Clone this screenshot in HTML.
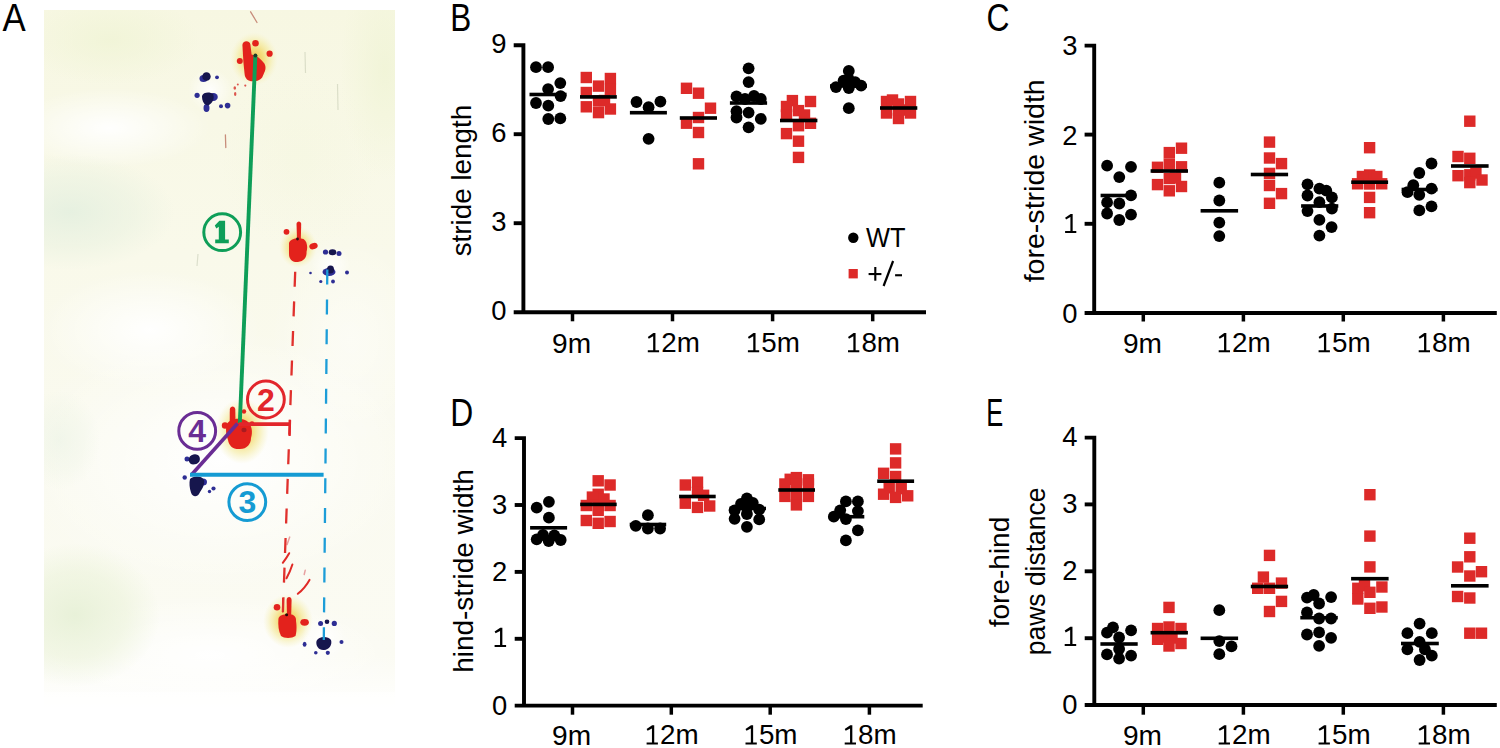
<!DOCTYPE html>
<html><head><meta charset="utf-8"><title>Gait analysis figure</title>
<style>
html,body{margin:0;padding:0;background:#fff;}
body{width:1500px;height:748px;overflow:hidden;}
svg{display:block;font-family:"Liberation Sans", sans-serif;}
</style></head>
<body>
<svg width="1500" height="748" viewBox="0 0 1500 748">
<rect width="1500" height="748" fill="#fff"/>
<defs>
<linearGradient id="pbase" x1="0" y1="0" x2="0" y2="1">
 <stop offset="0" stop-color="#F7F7E2"/>
 <stop offset="0.15" stop-color="#F8F8E6"/>
 <stop offset="0.35" stop-color="#F9F9EA"/>
 <stop offset="0.6" stop-color="#FAFAEF"/>
 <stop offset="0.92" stop-color="#FBFBF3"/>
 <stop offset="1" stop-color="#FFFFFF"/>
</linearGradient>
<radialGradient id="gtint" cx="0.5" cy="0.5" r="0.5">
 <stop offset="0" stop-color="#E3EFDF" stop-opacity="0.85"/>
 <stop offset="0.6" stop-color="#E8F1E0" stop-opacity="0.5"/>
 <stop offset="1" stop-color="#E8F1E0" stop-opacity="0"/>
</radialGradient>
<radialGradient id="gtint2" cx="0.5" cy="0.5" r="0.5">
 <stop offset="0" stop-color="#E6F0D6" stop-opacity="0.9"/>
 <stop offset="0.6" stop-color="#EAF2D8" stop-opacity="0.55"/>
 <stop offset="1" stop-color="#EAF2D8" stop-opacity="0"/>
</radialGradient>
<radialGradient id="ytint" cx="0.5" cy="0.5" r="0.5">
 <stop offset="0" stop-color="#F0F4D6" stop-opacity="0.85"/>
 <stop offset="1" stop-color="#F0F4D6" stop-opacity="0"/>
</radialGradient>
<radialGradient id="wtint" cx="0.5" cy="0.5" r="0.5">
 <stop offset="0" stop-color="#FFFFFF" stop-opacity="0.95"/>
 <stop offset="1" stop-color="#FFFFFF" stop-opacity="0"/>
</radialGradient>
<radialGradient id="halo" cx="0.5" cy="0.5" r="0.5">
 <stop offset="0" stop-color="#F0B540" stop-opacity="0.95"/>
 <stop offset="0.4" stop-color="#F2D868" stop-opacity="0.8"/>
 <stop offset="0.7" stop-color="#F4EA9C" stop-opacity="0.55"/>
 <stop offset="0.88" stop-color="#F6F1C0" stop-opacity="0.3"/>
 <stop offset="1" stop-color="#F8F4D0" stop-opacity="0"/>
</radialGradient>
<radialGradient id="bhalo" cx="0.5" cy="0.5" r="0.5">
 <stop offset="0" stop-color="#FFFFFF" stop-opacity="0.9"/>
 <stop offset="1" stop-color="#FFFFFF" stop-opacity="0"/>
</radialGradient>
<filter id="soft" x="-20%" y="-20%" width="140%" height="140%"><feGaussianBlur stdDeviation="0.55"/></filter>
<clipPath id="pclip"><rect x="44" y="10" width="351" height="702"/></clipPath>
</defs>
<g clip-path="url(#pclip)">
<rect x="44" y="10" width="351" height="702" fill="url(#pbase)"/>
<ellipse cx="220" cy="460" rx="200" ry="130" fill="url(#wtint)"/>
<ellipse cx="210" cy="655" rx="190" ry="60" fill="url(#wtint)"/>
<ellipse cx="110" cy="128" rx="100" ry="40" fill="url(#wtint)"/>
<ellipse cx="150" cy="330" rx="110" ry="60" fill="url(#wtint)"/>
<ellipse cx="350" cy="340" rx="80" ry="110" fill="url(#wtint)" opacity="0.5"/>
<ellipse cx="70" cy="212" rx="105" ry="58" fill="url(#gtint)"/>
<ellipse cx="60" cy="440" rx="40" ry="50" fill="url(#gtint)" opacity="0.5"/>
<ellipse cx="75" cy="615" rx="85" ry="72" fill="url(#gtint2)"/>
<ellipse cx="385" cy="70" rx="45" ry="110" fill="url(#ytint)"/>
<ellipse cx="110" cy="40" rx="90" ry="45" fill="url(#ytint)"/>
<ellipse cx="300" cy="160" rx="80" ry="90" fill="url(#ytint)" opacity="0.3"/>
<g stroke="#9AA488" stroke-width="1.2" opacity="0.3"><line x1="305" y1="52" x2="305.5" y2="73"/><line x1="337.5" y1="84" x2="338" y2="110"/><line x1="198" y1="254" x2="197" y2="266"/></g>
<rect x="44" y="692" width="351" height="20" fill="#FFFFFF" opacity="0.6"/>
<ellipse cx="254" cy="59" rx="24" ry="27" fill="url(#halo)"/>
<ellipse cx="298" cy="247" rx="19" ry="21" fill="url(#halo)"/>
<ellipse cx="242" cy="431" rx="27" ry="33" fill="url(#halo)"/>
<ellipse cx="288" cy="621" rx="25" ry="27" fill="url(#halo)"/>
<circle cx="210" cy="90" r="22" fill="url(#bhalo)"/>
<circle cx="331" cy="265" r="20" fill="url(#bhalo)"/>
<circle cx="198" cy="476" r="22" fill="url(#bhalo)"/>
<circle cx="324" cy="638" r="22" fill="url(#bhalo)"/>
<g fill="#E3241F" filter="url(#soft)"><path d="M242.4 45 C242.4 40.3 249.6 39.8 250.4 44.5 L251.6 54.5 C256 55.5 261 59 263.5 62.5 C266.5 65.5 266 71 263 74.5 C263 78.5 259 81 254 81.3 C248.5 81.8 245 79 244.6 74 L243.4 62 Z"/><circle cx="255.5" cy="43.3" r="3.3"/><circle cx="239.8" cy="60.9" r="3"/><circle cx="269.6" cy="53.7" r="3.1"/><circle cx="261" cy="73.5" r="2.6"/></g>
<g fill="#E3241F" filter="url(#soft)"><path d="M289 243 C290 238.5 298 237 303.5 239 C307 241 308 247 306.5 252 C307 257 304 261.5 298 262 C292 262.5 289 259 289 254 Z"/><path d="M296.5 224 C296.5 220.5 301.2 220.5 301.2 224 L300.8 240 L297 240 Z"/><circle cx="286.5" cy="231.8" r="2.9"/><ellipse cx="313.5" cy="246.1" rx="4.3" ry="3.1" transform="rotate(-20 313.5 246.1)"/></g>
<circle cx="297.5" cy="239" r="1.4" fill="#301010"/>
<g fill="#E3241F" filter="url(#soft)"><path d="M226.5 425 C229 418.5 240 417 247 421 C252 425 253 432 251 438 C251 444 247 449 240 449 C233 449.5 229 446 228 440 C226 435 225.5 430 226.5 425 Z"/><path d="M229.8 409 C230.5 405.5 235 405.5 235.3 409.5 L235.5 423 L229.7 423 Z"/><circle cx="225" cy="425.5" r="3.2"/><circle cx="244" cy="411.5" r="2.2"/><circle cx="252" cy="423.5" r="2.3"/></g>
<ellipse cx="244" cy="430" rx="2.6" ry="2.2" fill="#9A1A22" opacity="0.8"/>
<g fill="#E3241F" filter="url(#soft)"><path d="M278.4 619 C279 614.5 285 614 290 614.3 C294 614.5 296.5 617 296 621 C297 627 296.5 633 295.5 636 C292 638.5 284 638.5 281 636 C278.5 631 278 625 278.4 619 Z"/><path d="M286.6 600 C286.6 596 291.6 596 291.6 600 L291.2 615 L287 615 Z"/><circle cx="277" cy="607.3" r="3.3"/><ellipse cx="304.6" cy="622.3" rx="4.3" ry="3.4"/></g>
<line x1="282.8" y1="598" x2="282.8" y2="612.5" stroke="#E3241F" stroke-width="1.6"/>
<circle cx="286.6" cy="614.8" r="1.5" fill="#200808"/>
<g fill="#2E2E94" filter="url(#soft)"><ellipse cx="203.5" cy="78.5" rx="4" ry="3.6"/><circle cx="197.1" cy="95.3" r="2.6"/><circle cx="217" cy="77.3" r="1.9"/><ellipse cx="213.5" cy="97" rx="4.3" ry="4"/><circle cx="221" cy="106.3" r="2"/><circle cx="227.6" cy="105.6" r="2.8"/><ellipse cx="206.5" cy="108" rx="3" ry="4"/></g>
<g fill="#15124E" filter="url(#soft)"><ellipse cx="206.5" cy="76.5" rx="4.2" ry="4.3"/><path d="M202 96 C203 92 210 91.5 213 94 C215 98 212.5 103 209 105 C205 106.5 202 102 202 96 Z"/></g>
<g fill="#2E2E94" filter="url(#soft)"><circle cx="325.5" cy="252" r="2.6"/><circle cx="320.8" cy="281.5" r="1.6"/><circle cx="333" cy="281.5" r="1.9"/><circle cx="347" cy="272.5" r="2"/><circle cx="310.5" cy="273" r="1.3"/><circle cx="339" cy="253.5" r="2.5"/><ellipse cx="329" cy="272" rx="6.5" ry="4"/></g>
<g fill="#15124E" filter="url(#soft)"><ellipse cx="332.5" cy="252.3" rx="3.8" ry="3"/><ellipse cx="330.5" cy="269.5" rx="3.5" ry="4"/></g>
<g fill="#2E2E94" filter="url(#soft)"><circle cx="184.7" cy="477.5" r="2.2"/><circle cx="213.5" cy="488.5" r="2.1"/><circle cx="209.5" cy="491.5" r="1.7"/><ellipse cx="203" cy="482" rx="4" ry="3.5"/><circle cx="187" cy="459" r="2.5"/></g>
<g fill="#15124E" filter="url(#soft)"><path d="M189 458 C191 453.5 198 453 199.5 457 C201 461 198 464.5 193 464.5 C190 464.5 188 461.5 189 458 Z"/><path d="M190 479 C193 475.5 202 475.5 204 480 C205 485 202 489 199.5 493 C197.5 497.5 192.5 497.5 191 492.5 C189.5 488 189 483 190 479 Z"/></g>
<g fill="#2E2E94" filter="url(#soft)"><ellipse cx="304.6" cy="644.3" rx="1.9" ry="2.5"/><circle cx="341.5" cy="641.9" r="2"/><circle cx="315.8" cy="652.8" r="1.8"/><circle cx="327.8" cy="652.8" r="2.1"/><circle cx="320.6" cy="623.4" r="2.5"/><circle cx="334.3" cy="623.4" r="2.6"/></g>
<g fill="#15124E" filter="url(#soft)"><path d="M316.5 641 C318.5 636 328 635.5 331 640 C332.5 645 329 649.5 324 650 C319 650.5 315.5 646 316.5 641 Z"/><circle cx="327" cy="621.8" r="2.3"/></g>
<g stroke="#B86A58" stroke-width="1.3" fill="none" opacity="0.75" stroke-linecap="round"><path d="M250.6 11.8 L257 22.5"/><path d="M225.4 134.8 L225.8 147.6"/></g>
<g fill="#D83A34" opacity="0.85"><ellipse cx="234.8" cy="88" rx="1.3" ry="1.8"/><ellipse cx="235.2" cy="94" rx="1.2" ry="2"/><circle cx="237.8" cy="84.5" r="1"/><circle cx="245.3" cy="85.6" r="1.1"/></g>
<g stroke="#E02A26" stroke-width="2" fill="none" stroke-linecap="round"><path d="M289.2 553.2 Q286.5 558 282.8 562.8"/><path d="M292.4 564.5 Q290 572 286.5 578.3"/><path d="M309.5 579.9 Q305 588 297.8 593.8"/></g>
<g stroke="#E8A0A0" stroke-width="1.5" fill="none" stroke-linecap="round"><path d="M289.7 537.1 L287.1 544.6"/><path d="M305.2 570.3 L304.2 574.5"/></g>
<line x1="295.2" y1="271.8" x2="282.9" y2="612" stroke="#E0302C" stroke-width="2.3" stroke-dasharray="15 14.6"/>
<line x1="327.3" y1="269.6" x2="323.8" y2="640" stroke="#1C9DD8" stroke-width="2.3" stroke-dasharray="15 14.8"/>
<line x1="255.4" y1="55" x2="239.8" y2="423" stroke="#0E9E58" stroke-width="3.9"/>
<circle cx="255.4" cy="55.5" r="1.9" fill="#1B3A2A"/>
<line x1="239" y1="424.1" x2="290.5" y2="424.1" stroke="#E2262B" stroke-width="3.6"/>
<line x1="290" y1="419.9" x2="289.6" y2="436" stroke="#E2262B" stroke-width="2.3"/>
<line x1="237.5" y1="423.5" x2="191.3" y2="475" stroke="#6A2D94" stroke-width="3.6"/>
<line x1="190" y1="474.8" x2="323.6" y2="474.8" stroke="#159BD3" stroke-width="3.9"/>
<circle cx="222.2" cy="232.2" r="18.4" fill="none" stroke="#0E9E58" stroke-width="3"/>
<path d="M219.4 220.8 H225.1 V239.6 H228.8 V243.2 H215.2 V239.6 H218.8 V226.8 L216.3 228.6 L214.8 225.4 Z" fill="#0E9E58"/>
<circle cx="265.9" cy="399.5" r="18.4" fill="none" stroke="#E2262B" stroke-width="3"/><text x="265.9" y="410.7" text-anchor="middle" font-size="32" font-weight="bold" fill="#E2262B">2</text>
<circle cx="247.3" cy="502.1" r="18.4" fill="none" stroke="#159BD3" stroke-width="3"/><text x="247.3" y="513.3" text-anchor="middle" font-size="32" font-weight="bold" fill="#159BD3">3</text>
<circle cx="197.2" cy="430.9" r="18.4" fill="none" stroke="#6A2D94" stroke-width="3"/><text x="197.2" y="442.1" text-anchor="middle" font-size="32" font-weight="bold" fill="#6A2D94">4</text>
</g>
<g fill="#000">
<path d="M513.7 45.2H523.4V312.3" fill="none" stroke="#000" stroke-width="3.9" stroke-linejoin="miter"/>
<line x1="513.7" y1="312.3" x2="926" y2="312.3" stroke="#000" stroke-width="3.9"/>
<line x1="513.7" y1="134.2" x2="523.4" y2="134.2" stroke="#000" stroke-width="3.9"/>
<line x1="513.7" y1="223.2" x2="523.4" y2="223.2" stroke="#000" stroke-width="3.9"/>
<line x1="572.5" y1="312.3" x2="572.5" y2="321.3" stroke="#000" stroke-width="3.5"/>
<line x1="672.5" y1="312.3" x2="672.5" y2="321.3" stroke="#000" stroke-width="3.5"/>
<line x1="772.6" y1="312.3" x2="772.6" y2="321.3" stroke="#000" stroke-width="3.5"/>
<line x1="872.7" y1="312.3" x2="872.7" y2="321.3" stroke="#000" stroke-width="3.5"/>
<text x="506.6" y="52.5" text-anchor="end" font-size="27.4">9</text>
<text x="506.6" y="141.5" text-anchor="end" font-size="27.4">6</text>
<text x="506.6" y="230.5" text-anchor="end" font-size="27.4">3</text>
<text x="506.6" y="319.6" text-anchor="end" font-size="27.4">0</text>
<text x="571.6" y="352.5" text-anchor="middle" font-size="27" textLength="39" lengthAdjust="spacingAndGlyphs">9m</text>
<path transform="translate(647.8 333.1) scale(0.9912 0.9948)" d="M5.6 0H7.7V17.3H11.4V19.3H0V17.3H5.4V3.2L1.0 5.7L0 3.9Z"/>
<text x="661.2" y="352.3" font-size="27" textLength="38.6" lengthAdjust="spacingAndGlyphs">2m</text>
<path transform="translate(747.9 333.1) scale(0.9912 0.9948)" d="M5.6 0H7.7V17.3H11.4V19.3H0V17.3H5.4V3.2L1.0 5.7L0 3.9Z"/>
<text x="761.3" y="352.3" font-size="27" textLength="38.6" lengthAdjust="spacingAndGlyphs">5m</text>
<path transform="translate(848 333.1) scale(0.9912 0.9948)" d="M5.6 0H7.7V17.3H11.4V19.3H0V17.3H5.4V3.2L1.0 5.7L0 3.9Z"/>
<text x="861.4" y="352.3" font-size="27" textLength="38.6" lengthAdjust="spacingAndGlyphs">8m</text>
<rect x="580.6" y="71.8" width="11.4" height="11.4" fill="#DD2A29"/>
<rect x="604.7" y="72.8" width="11.4" height="11.4" fill="#DD2A29"/>
<rect x="604.7" y="83.8" width="11.4" height="11.4" fill="#DD2A29"/>
<rect x="592.8" y="80.4" width="11.4" height="11.4" fill="#DD2A29"/>
<rect x="580.6" y="86.8" width="11.4" height="11.4" fill="#DD2A29"/>
<rect x="592.8" y="95.3" width="11.4" height="11.4" fill="#DD2A29"/>
<rect x="580.6" y="101.1" width="11.4" height="11.4" fill="#DD2A29"/>
<rect x="592.8" y="106.9" width="11.4" height="11.4" fill="#DD2A29"/>
<rect x="604.7" y="103.3" width="11.4" height="11.4" fill="#DD2A29"/>
<rect x="598.8" y="94.8" width="11.4" height="11.4" fill="#DD2A29"/>
<rect x="680.8" y="82.6" width="11.4" height="11.4" fill="#DD2A29"/>
<rect x="692.8" y="87.5" width="11.4" height="11.4" fill="#DD2A29"/>
<rect x="704.8" y="102.5" width="11.4" height="11.4" fill="#DD2A29"/>
<rect x="692.8" y="111.8" width="11.4" height="11.4" fill="#DD2A29"/>
<rect x="680.8" y="117.5" width="11.4" height="11.4" fill="#DD2A29"/>
<rect x="692.8" y="126.8" width="11.4" height="11.4" fill="#DD2A29"/>
<rect x="692.8" y="158.1" width="11.4" height="11.4" fill="#DD2A29"/>
<rect x="786.7" y="94.9" width="11.4" height="11.4" fill="#DD2A29"/>
<rect x="804.8" y="95.8" width="11.4" height="11.4" fill="#DD2A29"/>
<rect x="780.8" y="100.8" width="11.4" height="11.4" fill="#DD2A29"/>
<rect x="792.8" y="104.9" width="11.4" height="11.4" fill="#DD2A29"/>
<rect x="798.8" y="109.3" width="11.4" height="11.4" fill="#DD2A29"/>
<rect x="780.8" y="109.3" width="11.4" height="11.4" fill="#DD2A29"/>
<rect x="804.8" y="117.6" width="11.4" height="11.4" fill="#DD2A29"/>
<rect x="792.8" y="120" width="11.4" height="11.4" fill="#DD2A29"/>
<rect x="780.8" y="127.9" width="11.4" height="11.4" fill="#DD2A29"/>
<rect x="792.8" y="135.5" width="11.4" height="11.4" fill="#DD2A29"/>
<rect x="792.8" y="151.7" width="11.4" height="11.4" fill="#DD2A29"/>
<rect x="880.8" y="95.8" width="11.4" height="11.4" fill="#DD2A29"/>
<rect x="886.8" y="94.3" width="11.4" height="11.4" fill="#DD2A29"/>
<rect x="892.8" y="98.3" width="11.4" height="11.4" fill="#DD2A29"/>
<rect x="904.8" y="95.8" width="11.4" height="11.4" fill="#DD2A29"/>
<rect x="880.8" y="107.3" width="11.4" height="11.4" fill="#DD2A29"/>
<rect x="892.8" y="112.8" width="11.4" height="11.4" fill="#DD2A29"/>
<rect x="904.8" y="107.3" width="11.4" height="11.4" fill="#DD2A29"/>
<rect x="898.8" y="104.3" width="11.4" height="11.4" fill="#DD2A29"/>
<rect x="892.8" y="104.3" width="11.4" height="11.4" fill="#DD2A29"/>
<rect x="529.5" y="92.7" width="37.1" height="3.6" fill="#000"/>
<rect x="629.9" y="110.9" width="37" height="3.6" fill="#000"/>
<rect x="729.9" y="101.2" width="37.2" height="3.6" fill="#000"/>
<rect x="830" y="84.2" width="37" height="3.6" fill="#000"/>
<rect x="580" y="95.1" width="36.8" height="3.6" fill="#000"/>
<rect x="679.8" y="116.2" width="37.2" height="3.6" fill="#000"/>
<rect x="780" y="118.7" width="37.4" height="3.6" fill="#000"/>
<rect x="880" y="106.2" width="37.3" height="3.6" fill="#000"/>
<circle cx="536" cy="67.2" r="5.9"/>
<circle cx="548.1" cy="67.2" r="5.9"/>
<circle cx="560.3" cy="83.1" r="5.9"/>
<circle cx="548.1" cy="89.1" r="5.9"/>
<circle cx="560.6" cy="96.1" r="5.9"/>
<circle cx="536" cy="103" r="5.9"/>
<circle cx="548.3" cy="105.7" r="5.9"/>
<circle cx="548.3" cy="119" r="5.9"/>
<circle cx="560.3" cy="118.4" r="5.9"/>
<circle cx="636.5" cy="102" r="5.9"/>
<circle cx="660.4" cy="101.6" r="5.9"/>
<circle cx="648.6" cy="107.2" r="5.9"/>
<circle cx="648.6" cy="138.8" r="5.9"/>
<circle cx="748.6" cy="68.3" r="5.9"/>
<circle cx="748.6" cy="82.1" r="5.9"/>
<circle cx="736.5" cy="96.4" r="5.9"/>
<circle cx="745" cy="99" r="5.9"/>
<circle cx="754" cy="96" r="5.9"/>
<circle cx="760.8" cy="99" r="5.9"/>
<circle cx="736.5" cy="111.2" r="5.9"/>
<circle cx="736.5" cy="117.5" r="5.9"/>
<circle cx="748.6" cy="112.6" r="5.9"/>
<circle cx="760.8" cy="118.9" r="5.9"/>
<circle cx="748.6" cy="127.3" r="5.9"/>
<circle cx="848.8" cy="71" r="5.9"/>
<circle cx="848.8" cy="79.5" r="5.9"/>
<circle cx="843.6" cy="80.6" r="5.9"/>
<circle cx="855.1" cy="82.1" r="5.9"/>
<circle cx="836" cy="87.1" r="5.9"/>
<circle cx="848.8" cy="88.1" r="5.9"/>
<circle cx="861.1" cy="85.6" r="5.9"/>
<circle cx="848.8" cy="108.2" r="5.9"/>
<path d="M1084.6 45.6H1094.2V313" fill="none" stroke="#000" stroke-width="3.9" stroke-linejoin="miter"/>
<line x1="1084.6" y1="313" x2="1496.8" y2="313" stroke="#000" stroke-width="3.9"/>
<line x1="1084.6" y1="134.6" x2="1094.2" y2="134.6" stroke="#000" stroke-width="3.9"/>
<line x1="1084.6" y1="223.8" x2="1094.2" y2="223.8" stroke="#000" stroke-width="3.9"/>
<line x1="1143.3" y1="313" x2="1143.3" y2="321.5" stroke="#000" stroke-width="3.5"/>
<line x1="1243.4" y1="313" x2="1243.4" y2="321.5" stroke="#000" stroke-width="3.5"/>
<line x1="1343.3" y1="313" x2="1343.3" y2="321.5" stroke="#000" stroke-width="3.5"/>
<line x1="1443.4" y1="313" x2="1443.4" y2="321.5" stroke="#000" stroke-width="3.5"/>
<text x="1077.4" y="55.3" text-anchor="end" font-size="27.4">3</text>
<text x="1077.4" y="144.5" text-anchor="end" font-size="27.4">2</text>
<path transform="translate(1065.1 213.9) scale(0.9825 0.9948)" d="M5.6 0H7.7V17.3H11.4V19.3H0V17.3H5.4V3.2L1.0 5.7L0 3.9Z"/>
<text x="1077.4" y="322.9" text-anchor="end" font-size="27.4">0</text>
<text x="1142.4" y="352.5" text-anchor="middle" font-size="27" textLength="39" lengthAdjust="spacingAndGlyphs">9m</text>
<path transform="translate(1218.7 333.1) scale(0.9912 0.9948)" d="M5.6 0H7.7V17.3H11.4V19.3H0V17.3H5.4V3.2L1.0 5.7L0 3.9Z"/>
<text x="1232.1" y="352.3" font-size="27" textLength="38.6" lengthAdjust="spacingAndGlyphs">2m</text>
<path transform="translate(1318.6 333.1) scale(0.9912 0.9948)" d="M5.6 0H7.7V17.3H11.4V19.3H0V17.3H5.4V3.2L1.0 5.7L0 3.9Z"/>
<text x="1332" y="352.3" font-size="27" textLength="38.6" lengthAdjust="spacingAndGlyphs">5m</text>
<path transform="translate(1418.7 333.1) scale(0.9912 0.9948)" d="M5.6 0H7.7V17.3H11.4V19.3H0V17.3H5.4V3.2L1.0 5.7L0 3.9Z"/>
<text x="1432.1" y="352.3" font-size="27" textLength="38.6" lengthAdjust="spacingAndGlyphs">8m</text>
<rect x="1175.8" y="142.5" width="11.4" height="11.4" fill="#DD2A29"/>
<rect x="1163.6" y="146.9" width="11.4" height="11.4" fill="#DD2A29"/>
<rect x="1151.8" y="161.6" width="11.4" height="11.4" fill="#DD2A29"/>
<rect x="1163.6" y="158.3" width="11.4" height="11.4" fill="#DD2A29"/>
<rect x="1175.8" y="161.1" width="11.4" height="11.4" fill="#DD2A29"/>
<rect x="1163.6" y="172.8" width="11.4" height="11.4" fill="#DD2A29"/>
<rect x="1151.8" y="178.9" width="11.4" height="11.4" fill="#DD2A29"/>
<rect x="1175.8" y="180.8" width="11.4" height="11.4" fill="#DD2A29"/>
<rect x="1163.6" y="185.1" width="11.4" height="11.4" fill="#DD2A29"/>
<rect x="1169.8" y="172.3" width="11.4" height="11.4" fill="#DD2A29"/>
<rect x="1263.8" y="136.4" width="11.4" height="11.4" fill="#DD2A29"/>
<rect x="1263.8" y="152.3" width="11.4" height="11.4" fill="#DD2A29"/>
<rect x="1275.8" y="157.9" width="11.4" height="11.4" fill="#DD2A29"/>
<rect x="1263.8" y="167.7" width="11.4" height="11.4" fill="#DD2A29"/>
<rect x="1263.8" y="179.8" width="11.4" height="11.4" fill="#DD2A29"/>
<rect x="1275.8" y="187.9" width="11.4" height="11.4" fill="#DD2A29"/>
<rect x="1263.8" y="197.6" width="11.4" height="11.4" fill="#DD2A29"/>
<rect x="1363.9" y="142" width="11.4" height="11.4" fill="#DD2A29"/>
<rect x="1363.9" y="169.3" width="11.4" height="11.4" fill="#DD2A29"/>
<rect x="1356.7" y="170.8" width="11.4" height="11.4" fill="#DD2A29"/>
<rect x="1371.1" y="170.8" width="11.4" height="11.4" fill="#DD2A29"/>
<rect x="1351.9" y="178.1" width="11.4" height="11.4" fill="#DD2A29"/>
<rect x="1376" y="178.1" width="11.4" height="11.4" fill="#DD2A29"/>
<rect x="1363.9" y="178.3" width="11.4" height="11.4" fill="#DD2A29"/>
<rect x="1363.9" y="191.7" width="11.4" height="11.4" fill="#DD2A29"/>
<rect x="1363.9" y="207" width="11.4" height="11.4" fill="#DD2A29"/>
<rect x="1464.1" y="115.5" width="11.4" height="11.4" fill="#DD2A29"/>
<rect x="1452.3" y="150.8" width="11.4" height="11.4" fill="#DD2A29"/>
<rect x="1464.1" y="152.6" width="11.4" height="11.4" fill="#DD2A29"/>
<rect x="1452.3" y="170" width="11.4" height="11.4" fill="#DD2A29"/>
<rect x="1464.1" y="169.1" width="11.4" height="11.4" fill="#DD2A29"/>
<rect x="1470.2" y="167.3" width="11.4" height="11.4" fill="#DD2A29"/>
<rect x="1476.3" y="174.3" width="11.4" height="11.4" fill="#DD2A29"/>
<rect x="1464.1" y="176.9" width="11.4" height="11.4" fill="#DD2A29"/>
<rect x="1100.6" y="193.7" width="35.6" height="3.6" fill="#000"/>
<rect x="1200.6" y="209" width="37.5" height="3.6" fill="#000"/>
<rect x="1301.1" y="204.2" width="37.2" height="3.6" fill="#000"/>
<rect x="1401.6" y="187.7" width="36" height="3.6" fill="#000"/>
<rect x="1150.6" y="169.2" width="37.4" height="3.6" fill="#000"/>
<rect x="1250.8" y="172.7" width="37.3" height="3.6" fill="#000"/>
<rect x="1351.2" y="180.4" width="36.9" height="3.6" fill="#000"/>
<rect x="1451" y="164.2" width="37.6" height="3.6" fill="#000"/>
<circle cx="1107.1" cy="165.7" r="5.9"/>
<circle cx="1131" cy="166.8" r="5.9"/>
<circle cx="1119.3" cy="177.1" r="5.9"/>
<circle cx="1131" cy="195.4" r="5.9"/>
<circle cx="1107.1" cy="202.4" r="5.9"/>
<circle cx="1119.3" cy="203.5" r="5.9"/>
<circle cx="1107.1" cy="213.5" r="5.9"/>
<circle cx="1131" cy="214.6" r="5.9"/>
<circle cx="1119.3" cy="220" r="5.9"/>
<circle cx="1219.3" cy="182.7" r="5.9"/>
<circle cx="1219.3" cy="200.5" r="5.9"/>
<circle cx="1219.3" cy="222.6" r="5.9"/>
<circle cx="1219.3" cy="236.1" r="5.9"/>
<circle cx="1307.5" cy="184.3" r="5.9"/>
<circle cx="1319.4" cy="188.6" r="5.9"/>
<circle cx="1326.3" cy="190.7" r="5.9"/>
<circle cx="1307.5" cy="195.5" r="5.9"/>
<circle cx="1331.9" cy="197.4" r="5.9"/>
<circle cx="1319.4" cy="202.2" r="5.9"/>
<circle cx="1307.5" cy="211.1" r="5.9"/>
<circle cx="1331.9" cy="208.7" r="5.9"/>
<circle cx="1319.4" cy="219.9" r="5.9"/>
<circle cx="1331.6" cy="227.1" r="5.9"/>
<circle cx="1319.4" cy="235.6" r="5.9"/>
<circle cx="1431.5" cy="163.5" r="5.9"/>
<circle cx="1419.3" cy="173" r="5.9"/>
<circle cx="1413.3" cy="185.2" r="5.9"/>
<circle cx="1407.5" cy="192.2" r="5.9"/>
<circle cx="1419.3" cy="194.8" r="5.9"/>
<circle cx="1431.5" cy="188.7" r="5.9"/>
<circle cx="1419.3" cy="210.4" r="5.9"/>
<circle cx="1431.5" cy="206.4" r="5.9"/>
<path d="M514.7 438.1H524V705.6" fill="none" stroke="#000" stroke-width="3.9" stroke-linejoin="miter"/>
<line x1="514.7" y1="705.6" x2="922.7" y2="705.6" stroke="#000" stroke-width="3.9"/>
<line x1="514.7" y1="505" x2="524" y2="505" stroke="#000" stroke-width="3.9"/>
<line x1="514.7" y1="571.9" x2="524" y2="571.9" stroke="#000" stroke-width="3.9"/>
<line x1="514.7" y1="638.8" x2="524" y2="638.8" stroke="#000" stroke-width="3.9"/>
<line x1="572.5" y1="705.6" x2="572.5" y2="714.7" stroke="#000" stroke-width="3.5"/>
<line x1="671.3" y1="705.6" x2="671.3" y2="714.7" stroke="#000" stroke-width="3.5"/>
<line x1="770.2" y1="705.6" x2="770.2" y2="714.7" stroke="#000" stroke-width="3.5"/>
<line x1="869.4" y1="705.6" x2="869.4" y2="714.7" stroke="#000" stroke-width="3.5"/>
<text x="507.2" y="447" text-anchor="end" font-size="27.4">4</text>
<text x="507.2" y="513.9" text-anchor="end" font-size="27.4">3</text>
<text x="507.2" y="580.8" text-anchor="end" font-size="27.4">2</text>
<path transform="translate(494.6 627.7) scale(1.0088 0.9948)" d="M5.6 0H7.7V17.3H11.4V19.3H0V17.3H5.4V3.2L1.0 5.7L0 3.9Z"/>
<text x="507.2" y="714.5" text-anchor="end" font-size="27.4">0</text>
<text x="571.6" y="744.6" text-anchor="middle" font-size="27" textLength="39" lengthAdjust="spacingAndGlyphs">9m</text>
<path transform="translate(646.6 725.2) scale(0.9912 0.9948)" d="M5.6 0H7.7V17.3H11.4V19.3H0V17.3H5.4V3.2L1.0 5.7L0 3.9Z"/>
<text x="660" y="744.4" font-size="27" textLength="38.6" lengthAdjust="spacingAndGlyphs">2m</text>
<path transform="translate(745.5 725.2) scale(0.9912 0.9948)" d="M5.6 0H7.7V17.3H11.4V19.3H0V17.3H5.4V3.2L1.0 5.7L0 3.9Z"/>
<text x="758.9" y="744.4" font-size="27" textLength="38.6" lengthAdjust="spacingAndGlyphs">5m</text>
<path transform="translate(844.7 725.2) scale(0.9912 0.9948)" d="M5.6 0H7.7V17.3H11.4V19.3H0V17.3H5.4V3.2L1.0 5.7L0 3.9Z"/>
<text x="858.1" y="744.4" font-size="27" textLength="38.6" lengthAdjust="spacingAndGlyphs">8m</text>
<rect x="592.5" y="475.1" width="11.4" height="11.4" fill="#DD2A29"/>
<rect x="604.4" y="479.3" width="11.4" height="11.4" fill="#DD2A29"/>
<rect x="592.5" y="488.6" width="11.4" height="11.4" fill="#DD2A29"/>
<rect x="586.7" y="491.4" width="11.4" height="11.4" fill="#DD2A29"/>
<rect x="580.6" y="499.8" width="11.4" height="11.4" fill="#DD2A29"/>
<rect x="592.5" y="499.8" width="11.4" height="11.4" fill="#DD2A29"/>
<rect x="604.4" y="499.8" width="11.4" height="11.4" fill="#DD2A29"/>
<rect x="598.3" y="493.3" width="11.4" height="11.4" fill="#DD2A29"/>
<rect x="592.5" y="504.7" width="11.4" height="11.4" fill="#DD2A29"/>
<rect x="580.6" y="514.8" width="11.4" height="11.4" fill="#DD2A29"/>
<rect x="592.5" y="517.6" width="11.4" height="11.4" fill="#DD2A29"/>
<rect x="604.4" y="515.8" width="11.4" height="11.4" fill="#DD2A29"/>
<rect x="679.6" y="479.3" width="11.4" height="11.4" fill="#DD2A29"/>
<rect x="691.8" y="476.5" width="11.4" height="11.4" fill="#DD2A29"/>
<rect x="691.8" y="486.8" width="11.4" height="11.4" fill="#DD2A29"/>
<rect x="697.9" y="489.6" width="11.4" height="11.4" fill="#DD2A29"/>
<rect x="679.6" y="497.5" width="11.4" height="11.4" fill="#DD2A29"/>
<rect x="691.8" y="501.7" width="11.4" height="11.4" fill="#DD2A29"/>
<rect x="704" y="500.3" width="11.4" height="11.4" fill="#DD2A29"/>
<rect x="790.7" y="471.9" width="11.4" height="11.4" fill="#DD2A29"/>
<rect x="784.5" y="473.6" width="11.4" height="11.4" fill="#DD2A29"/>
<rect x="802.7" y="474.1" width="11.4" height="11.4" fill="#DD2A29"/>
<rect x="779.2" y="478.3" width="11.4" height="11.4" fill="#DD2A29"/>
<rect x="790.7" y="478.3" width="11.4" height="11.4" fill="#DD2A29"/>
<rect x="802.7" y="478.3" width="11.4" height="11.4" fill="#DD2A29"/>
<rect x="779.2" y="490.7" width="11.4" height="11.4" fill="#DD2A29"/>
<rect x="790.7" y="490.7" width="11.4" height="11.4" fill="#DD2A29"/>
<rect x="802.7" y="490.7" width="11.4" height="11.4" fill="#DD2A29"/>
<rect x="790.7" y="499.2" width="11.4" height="11.4" fill="#DD2A29"/>
<rect x="889.9" y="443.2" width="11.4" height="11.4" fill="#DD2A29"/>
<rect x="889.9" y="457.2" width="11.4" height="11.4" fill="#DD2A29"/>
<rect x="877.9" y="467.6" width="11.4" height="11.4" fill="#DD2A29"/>
<rect x="889.9" y="470.8" width="11.4" height="11.4" fill="#DD2A29"/>
<rect x="883.5" y="482.1" width="11.4" height="11.4" fill="#DD2A29"/>
<rect x="895.5" y="482.9" width="11.4" height="11.4" fill="#DD2A29"/>
<rect x="877.9" y="488.5" width="11.4" height="11.4" fill="#DD2A29"/>
<rect x="889.9" y="491.7" width="11.4" height="11.4" fill="#DD2A29"/>
<rect x="902" y="490.1" width="11.4" height="11.4" fill="#DD2A29"/>
<rect x="530.1" y="526" width="37" height="3.6" fill="#000"/>
<rect x="629.7" y="522.7" width="36.5" height="3.6" fill="#000"/>
<rect x="729.5" y="506.7" width="36.5" height="3.6" fill="#000"/>
<rect x="829" y="514.9" width="35.3" height="3.6" fill="#000"/>
<rect x="580.2" y="502.6" width="36.5" height="3.6" fill="#000"/>
<rect x="679.1" y="494.7" width="36.6" height="3.6" fill="#000"/>
<rect x="778.3" y="488.2" width="36.7" height="3.6" fill="#000"/>
<rect x="877.2" y="479.4" width="36.9" height="3.6" fill="#000"/>
<circle cx="548.9" cy="501.8" r="5.9"/>
<circle cx="536.7" cy="507.7" r="5.9"/>
<circle cx="548.9" cy="517.7" r="5.9"/>
<circle cx="536.7" cy="539.3" r="5.9"/>
<circle cx="548.7" cy="541" r="5.9"/>
<circle cx="560.7" cy="540" r="5.9"/>
<circle cx="543" cy="535" r="5.9"/>
<circle cx="554.3" cy="535.3" r="5.9"/>
<circle cx="647.9" cy="515.2" r="5.9"/>
<circle cx="635.8" cy="525.9" r="5.9"/>
<circle cx="647.9" cy="528.5" r="5.9"/>
<circle cx="660.1" cy="528.5" r="5.9"/>
<circle cx="746.9" cy="498.5" r="5.9"/>
<circle cx="741" cy="503.9" r="5.9"/>
<circle cx="752.8" cy="502.8" r="5.9"/>
<circle cx="734.6" cy="510.3" r="5.9"/>
<circle cx="759.2" cy="509.7" r="5.9"/>
<circle cx="746.9" cy="507.6" r="5.9"/>
<circle cx="746.9" cy="514" r="5.9"/>
<circle cx="734.6" cy="518.8" r="5.9"/>
<circle cx="759.2" cy="519.4" r="5.9"/>
<circle cx="746.9" cy="526.8" r="5.9"/>
<circle cx="845.9" cy="501.4" r="5.9"/>
<circle cx="857.9" cy="501.4" r="5.9"/>
<circle cx="840.2" cy="510.3" r="5.9"/>
<circle cx="833.8" cy="516.7" r="5.9"/>
<circle cx="845.9" cy="519.1" r="5.9"/>
<circle cx="857.9" cy="511.1" r="5.9"/>
<circle cx="857.9" cy="530.3" r="5.9"/>
<circle cx="845.9" cy="540.4" r="5.9"/>
<path d="M1084.7 437.6H1094.3V705" fill="none" stroke="#000" stroke-width="3.9" stroke-linejoin="miter"/>
<line x1="1084.7" y1="705" x2="1496.8" y2="705" stroke="#000" stroke-width="3.9"/>
<line x1="1084.7" y1="504.4" x2="1094.3" y2="504.4" stroke="#000" stroke-width="3.9"/>
<line x1="1084.7" y1="571.3" x2="1094.3" y2="571.3" stroke="#000" stroke-width="3.9"/>
<line x1="1084.7" y1="638.2" x2="1094.3" y2="638.2" stroke="#000" stroke-width="3.9"/>
<line x1="1143.3" y1="705" x2="1143.3" y2="714.7" stroke="#000" stroke-width="3.5"/>
<line x1="1243.4" y1="705" x2="1243.4" y2="714.7" stroke="#000" stroke-width="3.5"/>
<line x1="1343.3" y1="705" x2="1343.3" y2="714.7" stroke="#000" stroke-width="3.5"/>
<line x1="1443.4" y1="705" x2="1443.4" y2="714.7" stroke="#000" stroke-width="3.5"/>
<text x="1077.5" y="446.4" text-anchor="end" font-size="27.4">4</text>
<text x="1077.5" y="513.3" text-anchor="end" font-size="27.4">3</text>
<text x="1077.5" y="580.2" text-anchor="end" font-size="27.4">2</text>
<path transform="translate(1064.7 626.7) scale(1.0088 1.0000)" d="M5.6 0H7.7V17.3H11.4V19.3H0V17.3H5.4V3.2L1.0 5.7L0 3.9Z"/>
<text x="1077.5" y="713.9" text-anchor="end" font-size="27.4">0</text>
<text x="1142.4" y="744.6" text-anchor="middle" font-size="27" textLength="39" lengthAdjust="spacingAndGlyphs">9m</text>
<path transform="translate(1218.7 725.2) scale(0.9912 0.9948)" d="M5.6 0H7.7V17.3H11.4V19.3H0V17.3H5.4V3.2L1.0 5.7L0 3.9Z"/>
<text x="1232.1" y="744.4" font-size="27" textLength="38.6" lengthAdjust="spacingAndGlyphs">2m</text>
<path transform="translate(1318.6 725.2) scale(0.9912 0.9948)" d="M5.6 0H7.7V17.3H11.4V19.3H0V17.3H5.4V3.2L1.0 5.7L0 3.9Z"/>
<text x="1332" y="744.4" font-size="27" textLength="38.6" lengthAdjust="spacingAndGlyphs">5m</text>
<path transform="translate(1418.7 725.2) scale(0.9912 0.9948)" d="M5.6 0H7.7V17.3H11.4V19.3H0V17.3H5.4V3.2L1.0 5.7L0 3.9Z"/>
<text x="1432.1" y="744.4" font-size="27" textLength="38.6" lengthAdjust="spacingAndGlyphs">8m</text>
<rect x="1163.3" y="601.7" width="11.4" height="11.4" fill="#DD2A29"/>
<rect x="1157.3" y="631.3" width="11.4" height="11.4" fill="#DD2A29"/>
<rect x="1151.9" y="622.8" width="11.4" height="11.4" fill="#DD2A29"/>
<rect x="1163.3" y="621.3" width="11.4" height="11.4" fill="#DD2A29"/>
<rect x="1175.3" y="622.8" width="11.4" height="11.4" fill="#DD2A29"/>
<rect x="1151.9" y="633.6" width="11.4" height="11.4" fill="#DD2A29"/>
<rect x="1166.3" y="632.3" width="11.4" height="11.4" fill="#DD2A29"/>
<rect x="1175.3" y="637.8" width="11.4" height="11.4" fill="#DD2A29"/>
<rect x="1163.3" y="640.3" width="11.4" height="11.4" fill="#DD2A29"/>
<rect x="1263.8" y="549.7" width="11.4" height="11.4" fill="#DD2A29"/>
<rect x="1257.7" y="571.4" width="11.4" height="11.4" fill="#DD2A29"/>
<rect x="1275.8" y="577.4" width="11.4" height="11.4" fill="#DD2A29"/>
<rect x="1252" y="582.6" width="11.4" height="11.4" fill="#DD2A29"/>
<rect x="1263.8" y="582.6" width="11.4" height="11.4" fill="#DD2A29"/>
<rect x="1275.8" y="595.7" width="11.4" height="11.4" fill="#DD2A29"/>
<rect x="1263.8" y="605.8" width="11.4" height="11.4" fill="#DD2A29"/>
<rect x="1364.2" y="489" width="11.4" height="11.4" fill="#DD2A29"/>
<rect x="1364.2" y="530.4" width="11.4" height="11.4" fill="#DD2A29"/>
<rect x="1364.2" y="561.2" width="11.4" height="11.4" fill="#DD2A29"/>
<rect x="1352.1" y="582.6" width="11.4" height="11.4" fill="#DD2A29"/>
<rect x="1358.8" y="579.9" width="11.4" height="11.4" fill="#DD2A29"/>
<rect x="1376.2" y="581.3" width="11.4" height="11.4" fill="#DD2A29"/>
<rect x="1364.2" y="586.6" width="11.4" height="11.4" fill="#DD2A29"/>
<rect x="1352.1" y="593.3" width="11.4" height="11.4" fill="#DD2A29"/>
<rect x="1364.2" y="602.6" width="11.4" height="11.4" fill="#DD2A29"/>
<rect x="1376.2" y="601.3" width="11.4" height="11.4" fill="#DD2A29"/>
<rect x="1464.1" y="532.5" width="11.4" height="11.4" fill="#DD2A29"/>
<rect x="1464.1" y="551.1" width="11.4" height="11.4" fill="#DD2A29"/>
<rect x="1451.9" y="561.3" width="11.4" height="11.4" fill="#DD2A29"/>
<rect x="1475.8" y="566" width="11.4" height="11.4" fill="#DD2A29"/>
<rect x="1464.1" y="570.3" width="11.4" height="11.4" fill="#DD2A29"/>
<rect x="1451.9" y="590.8" width="11.4" height="11.4" fill="#DD2A29"/>
<rect x="1464.1" y="592.3" width="11.4" height="11.4" fill="#DD2A29"/>
<rect x="1464.1" y="627.5" width="11.4" height="11.4" fill="#DD2A29"/>
<rect x="1475.8" y="627.5" width="11.4" height="11.4" fill="#DD2A29"/>
<rect x="1100.4" y="642.2" width="37.3" height="3.6" fill="#000"/>
<rect x="1200.6" y="636.5" width="37.5" height="3.6" fill="#000"/>
<rect x="1300.3" y="615.9" width="37.5" height="3.6" fill="#000"/>
<rect x="1401" y="641.7" width="37.8" height="3.6" fill="#000"/>
<rect x="1150.6" y="630.9" width="37.3" height="3.6" fill="#000"/>
<rect x="1250.8" y="584.7" width="37.3" height="3.6" fill="#000"/>
<rect x="1351.1" y="576.9" width="37.5" height="3.6" fill="#000"/>
<rect x="1451" y="584" width="37.6" height="3.6" fill="#000"/>
<circle cx="1113" cy="627.3" r="5.9"/>
<circle cx="1107" cy="632.7" r="5.9"/>
<circle cx="1131.1" cy="630.3" r="5.9"/>
<circle cx="1119.1" cy="637.5" r="5.9"/>
<circle cx="1107" cy="654.4" r="5.9"/>
<circle cx="1119.1" cy="658.6" r="5.9"/>
<circle cx="1131.1" cy="655.6" r="5.9"/>
<circle cx="1119.1" cy="649" r="5.9"/>
<circle cx="1219.3" cy="610.2" r="5.9"/>
<circle cx="1219.3" cy="641.1" r="5.9"/>
<circle cx="1231.5" cy="646.4" r="5.9"/>
<circle cx="1219.3" cy="654.2" r="5.9"/>
<circle cx="1307" cy="597.6" r="5.9"/>
<circle cx="1313.7" cy="595" r="5.9"/>
<circle cx="1331.1" cy="597.1" r="5.9"/>
<circle cx="1319.1" cy="603.5" r="5.9"/>
<circle cx="1307" cy="612.4" r="5.9"/>
<circle cx="1319.1" cy="618.5" r="5.9"/>
<circle cx="1331.1" cy="618.5" r="5.9"/>
<circle cx="1307" cy="634.5" r="5.9"/>
<circle cx="1319.1" cy="632.4" r="5.9"/>
<circle cx="1331.1" cy="637.8" r="5.9"/>
<circle cx="1319.1" cy="645.8" r="5.9"/>
<circle cx="1419.6" cy="623.6" r="5.9"/>
<circle cx="1407.4" cy="633.2" r="5.9"/>
<circle cx="1431.8" cy="633.2" r="5.9"/>
<circle cx="1419.6" cy="641.8" r="5.9"/>
<circle cx="1407.4" cy="649.3" r="5.9"/>
<circle cx="1424.9" cy="649.3" r="5.9"/>
<circle cx="1431.8" cy="655.7" r="5.9"/>
<circle cx="1419.6" cy="660" r="5.9"/>
<text x="2.5" y="30.5" font-size="38.6" textLength="23.2" lengthAdjust="spacingAndGlyphs">A</text>
<text x="450.2" y="30.7" font-size="38.6" textLength="21" lengthAdjust="spacingAndGlyphs">B</text>
<text x="986.6" y="30.8" font-size="38.6" textLength="23" lengthAdjust="spacingAndGlyphs">C</text>
<text x="450.2" y="426.1" font-size="38.6" textLength="23" lengthAdjust="spacingAndGlyphs">D</text>
<text x="986.3" y="426.1" font-size="38.6" textLength="17" lengthAdjust="spacingAndGlyphs">E</text>
<text transform="translate(471.3 180.6) rotate(-90)" text-anchor="middle" font-size="27.4" textLength="151.4" lengthAdjust="spacingAndGlyphs">stride length</text>
<text transform="translate(1043.8 180.8) rotate(-90)" text-anchor="middle" font-size="27.4" textLength="203.1" lengthAdjust="spacingAndGlyphs">fore-stride width</text>
<text transform="translate(473.2 571) rotate(-90)" text-anchor="middle" font-size="27.4" textLength="203.7" lengthAdjust="spacingAndGlyphs">hind-stride width</text>
<text transform="translate(1009.2 572) rotate(-90)" text-anchor="middle" font-size="27.4" textLength="110.5" lengthAdjust="spacingAndGlyphs">fore-hind</text>
<text transform="translate(1044.8 571.4) rotate(-90)" text-anchor="middle" font-size="27.4" textLength="167.6" lengthAdjust="spacingAndGlyphs">paws distance</text>
<circle cx="853.3" cy="237.8" r="5.2"/>
<text x="866" y="246.8" font-size="26.9" textLength="39.5" lengthAdjust="spacingAndGlyphs">WT</text>
<rect x="848.6" y="269" width="9.2" height="9.4" fill="#DD2A29"/>
<rect x="868.6" y="273" width="12.8" height="2.1"/><rect x="874.25" y="267" width="2.1" height="13.7"/>
<line x1="893.1" y1="261" x2="883.6" y2="286" stroke="#000" stroke-width="2.2"/>
<rect x="895.1" y="274.2" width="6.9" height="2.1"/>
</g>
</svg>
</body></html>
